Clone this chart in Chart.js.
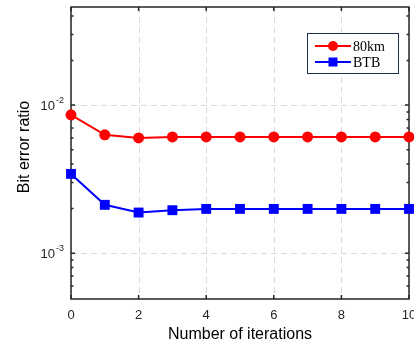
<!DOCTYPE html>
<html>
<head>
<meta charset="utf-8">
<script src="https://cdn.jsdelivr.net/npm/chart.js@4.4.1/dist/chart.umd.min.js"></script>
<style>
  html, body { margin: 0; padding: 0; background: #fff; overflow: hidden; }
  #wrap { width: 414px; height: 348px; overflow: hidden; }
</style>
</head>
<body>
<div id="wrap"><canvas id="chart" width="440" height="348"></canvas></div>
<script>
// ---- data ----
const iterations = [0, 1, 2, 3, 4, 5, 6, 7, 8, 9, 10];
const ber80km = [0.0086, 0.0063, 0.0060, 0.0061, 0.0061, 0.0061, 0.0061, 0.0061, 0.0061, 0.0061, 0.0061];
const berBTB = [0.00343, 0.00212, 0.00188, 0.00195, 0.00199, 0.00199, 0.00199, 0.00199, 0.00199, 0.00199, 0.00199];
const seriesNames = ['80km', 'BTB'];
const xTicks = [0, 2, 4, 6, 8, 10];
const yMajor = [1e-3, 1e-2];
const yMinor = [6e-4, 7e-4, 8e-4, 9e-4, 2e-3, 3e-3, 4e-3, 5e-3, 6e-3, 7e-3, 8e-3, 9e-3, 2e-2, 3e-2, 4e-2];
const yTitle = 'Bit error ratio';

const axisColor = '#262626';
const gridColor = '#dadada';

// MATLAB-like box axes, dashed grid, inward ticks, 10^n labels
const matlabAxes = {
    id: 'matlabAxes',
    beforeDatasetsDraw(chart) {
        const { ctx, chartArea: a, scales: { x, y } } = chart;
        ctx.save();

        // dashed grid
        ctx.strokeStyle = gridColor;
        ctx.lineWidth = 1;
        ctx.setLineDash([6, 4]);
        xTicks.forEach(v => {
            const px = Math.round(x.getPixelForValue(v)) + 0.5;
            ctx.beginPath(); ctx.moveTo(px, a.top); ctx.lineTo(px, a.bottom); ctx.stroke();
        });
        yMajor.forEach(v => {
            const py = Math.round(y.getPixelForValue(v)) + 0.5;
            ctx.beginPath(); ctx.moveTo(a.left, py); ctx.lineTo(a.right, py); ctx.stroke();
        });
        ctx.setLineDash([]);

        // box
        ctx.strokeStyle = axisColor;
        ctx.lineWidth = 1.5;
        ctx.strokeRect(a.left, a.top, a.right - a.left, a.bottom - a.top);

        // inward ticks
        ctx.beginPath();
        xTicks.forEach(v => {
            const px = x.getPixelForValue(v);
            ctx.moveTo(px, a.bottom); ctx.lineTo(px, a.bottom - 4);
            ctx.moveTo(px, a.top); ctx.lineTo(px, a.top + 4);
        });
        yMajor.forEach(v => {
            const py = y.getPixelForValue(v);
            ctx.moveTo(a.left, py); ctx.lineTo(a.left + 4, py);
            ctx.moveTo(a.right, py); ctx.lineTo(a.right - 4, py);
        });
        yMinor.forEach(v => {
            const py = y.getPixelForValue(v);
            ctx.moveTo(a.left, py); ctx.lineTo(a.left + 2.5, py);
            ctx.moveTo(a.right, py); ctx.lineTo(a.right - 2.5, py);
        });
        ctx.stroke();

        // y tick labels as 10^n
        ctx.fillStyle = axisColor;
        ctx.textBaseline = 'middle';
        yMajor.forEach(v => {
            const py = y.getPixelForValue(v);
            const exp = Math.round(Math.log10(v));
            ctx.font = '13px "Liberation Sans", Arial, sans-serif';
            ctx.textAlign = 'right';
            ctx.fillText('10', a.left - 16, py + 1);
            ctx.font = '9px "Liberation Sans", Arial, sans-serif';
            ctx.textAlign = 'left';
            ctx.fillText(String(exp), a.left - 15, py - 5);
        });

        // y axis title (sits a little above the centre, as in the figure)
        ctx.save();
        ctx.translate(25, (a.top + a.bottom) / 2 - 6);
        ctx.rotate(-Math.PI / 2);
        ctx.fillStyle = '#000';
        ctx.font = '16px "Liberation Sans", Arial, sans-serif';
        ctx.textAlign = 'center';
        ctx.textBaseline = 'middle';
        ctx.fillText(yTitle, 0, 0);
        ctx.restore();

        ctx.restore();
    },
    afterDatasetsDraw(chart) {
        const { ctx } = chart;
        // legend box
        const bx = 307, by = 33, bw = 91, bh = 40;
        ctx.save();
        ctx.fillStyle = '#fff';
        ctx.fillRect(bx, by, bw, bh);
        ctx.strokeStyle = '#1f2f4f';
        ctx.lineWidth = 1;
        ctx.strokeRect(bx + 0.5, by + 0.5, bw, bh);
        chart.data.datasets.forEach((ds, i) => {
            const cy = by + 13 + i * 16;
            ctx.strokeStyle = ds.borderColor;
            ctx.lineWidth = 2;
            ctx.beginPath(); ctx.moveTo(315, cy); ctx.lineTo(351, cy); ctx.stroke();
            ctx.fillStyle = ds.borderColor;
            if (ds.pointStyle === 'circle') {
                ctx.beginPath(); ctx.arc(333, cy, 5, 0, Math.PI * 2); ctx.fill();
            } else {
                ctx.fillRect(333 - 4.5, cy - 4.5, 9, 9);
            }
            ctx.fillStyle = '#000';
            ctx.font = '14px "Liberation Serif", "Times New Roman", serif';
            ctx.textAlign = 'left';
            ctx.textBaseline = 'middle';
            ctx.fillText(ds.label, 353, cy + 1);
        });
        ctx.restore();
    }
};

new Chart(document.getElementById('chart'), {
    type: 'line',
    data: {
        labels: iterations,
        datasets: [
            {
                label: seriesNames[0],
                data: iterations.map((it, i) => ({ x: it, y: ber80km[i] })),
                borderColor: '#ff0000',
                backgroundColor: '#ff0000',
                borderWidth: 2,
                pointStyle: 'circle',
                pointRadius: 5.5,
                pointBorderWidth: 0,
                clip: false
            },
            {
                label: seriesNames[1],
                data: iterations.map((it, i) => ({ x: it, y: berBTB[i] })),
                borderColor: '#0000ff',
                backgroundColor: '#0000ff',
                borderWidth: 2,
                pointStyle: 'rect',
                pointRadius: 7,
                pointBorderWidth: 0,
                clip: false
            }
        ]
    },
    options: {
        responsive: false,
        animation: false,
        layout: { padding: { left: 71, top: 0, right: 31, bottom: 0 } },
        plugins: { legend: { display: false }, tooltip: { enabled: false } },
        scales: {
            x: {
                type: 'linear',
                min: 0,
                max: 10,
                afterBuildTicks: scale => { scale.ticks = xTicks.map(v => ({ value: v })); },
                ticks: {
                    color: axisColor,
                    padding: 9,
                    maxRotation: 0,
                    font: { family: '"Liberation Sans", Arial, sans-serif', size: 13 }
                },
                grid: { display: false, drawTicks: false },
                border: { display: false },
                title: {
                    display: true,
                    text: 'Number of iterations',
                    color: '#000',
                    font: { family: '"Liberation Sans", Arial, sans-serif', size: 16 },
                    padding: { top: -7.2, bottom: 3.4 }
                }
            },
            y: {
                type: 'logarithmic',
                min: 0.00049,
                max: 0.046,
                ticks: { display: false },
                grid: { display: false, drawTicks: false },
                border: { display: false },
                title: { display: false }
            }
        }
    },
    plugins: [matlabAxes]
});
</script>
</body>
</html>
